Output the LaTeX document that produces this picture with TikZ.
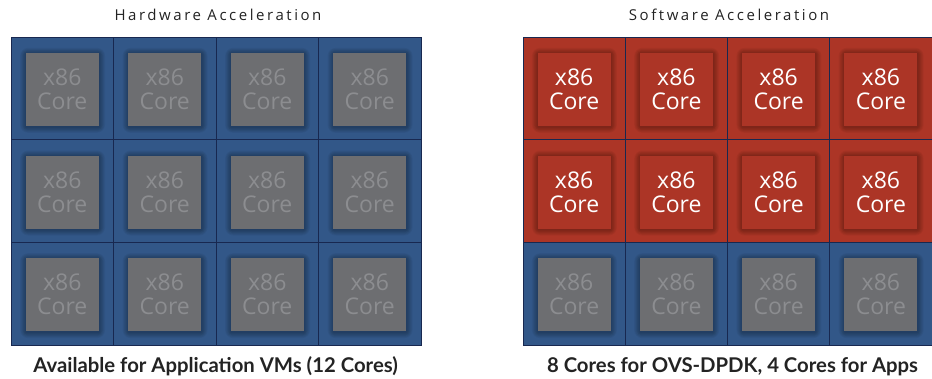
\documentclass[tikz,border=0pt]{standalone}
\usepackage{fontspec}
\setmainfont{Open Sans}
\newfontfamily\titlefont[LetterSpace=17]{Open Sans}
\newfontfamily\labelfont{Lato}
\definecolor{gridblue}{RGB}{50,87,136}
\definecolor{gridred}{RGB}{172,53,38}
\definecolor{gridline}{RGB}{24,40,80}
\definecolor{coregrey}{RGB}{109,110,113}
\definecolor{coretextgrey}{RGB}{140,141,144}
\definecolor{titlegrey}{RGB}{35,35,35}
\tikzset{
  corebox/.style={minimum width=73pt,minimum height=73pt,inner sep=0pt,align=center,
    font=\fontsize{23}{24}\selectfont},
  greycore/.style={corebox,fill=coregrey,text=coretextgrey},
  redcore/.style={corebox,fill=gridred,text=white},
  cellbox/.style={draw=gridline,line width=0.9pt},
  titletext/.style={font=\titlefont\fontsize{15}{17}\selectfont,text=titlegrey,anchor=base,inner sep=0pt},
  bottomtext/.style={font=\labelfont\bfseries\fontsize{20.3}{23}\selectfont,text=titlegrey,anchor=base,inner sep=0pt},
}
\begin{document}
\begin{tikzpicture}[x=1pt,y=-1pt]
\useasboundingbox (0,0) rectangle (932,378);
% titles
\node[titletext] (lt) at (218,20) {Hardware Acceleration};
\node[titletext] (rt) at (729,20) {Software Acceleration};
% grids
\foreach \g/\ox/\w in {L/11/102.5,R/523/102.25}{
  \foreach \r in {1,2,3}{
    \foreach \c in {1,2,3,4}{
      \pgfmathsetmacro{\xa}{\ox+(\c-1)*\w}
      \pgfmathsetmacro{\xb}{\ox+\c*\w}
      \pgfmathsetmacro{\ya}{37+(\r-1)*102.67}
      \pgfmathsetmacro{\yb}{37+\r*102.67}
      \pgfmathsetmacro{\cx}{(\xa+\xb)/2}
      \pgfmathsetmacro{\cy}{(\ya+\yb)/2+1}
      \ifnum\r<3
        \if\g R
          \def\cellcol{gridred}\def\corestyle{redcore}
        \else
          \def\cellcol{gridblue}\def\corestyle{greycore}
        \fi
      \else
        \def\cellcol{gridblue}\def\corestyle{greycore}
      \fi
      \fill[\cellcol] (\xa,\ya) rectangle (\xb,\yb);
      \foreach \i in {1,...,8}{
        \fill[black,opacity=0.035,rounded corners=\i pt]
          (\cx-36.5-\i*0.75+0.3,\cy-36.5-\i*0.75+1) rectangle (\cx+36.5+\i*0.75+0.3,\cy+36.5+\i*0.75+1);
      }
      \node[\corestyle] (\g-\r-\c) at (\cx,\cy) {x86\\Core};
    }
  }
  \foreach \r in {1,2,3}{
    \foreach \c in {1,2,3,4}{
      \pgfmathsetmacro{\xa}{\ox+(\c-1)*\w}
      \pgfmathsetmacro{\xb}{\ox+\c*\w}
      \pgfmathsetmacro{\ya}{37+(\r-1)*102.67}
      \pgfmathsetmacro{\yb}{37+\r*102.67}
      \draw[cellbox] (\xa,\ya) rectangle (\xb,\yb);
    }
  }
}
% bottom labels
\node[bottomtext] (lb) at (215.5,372) {Available for Application VMs (12 Cores)};
\node[bottomtext] (rb) at (732.5,372) {8 Cores for OVS-DPDK, 4 Cores for Apps};
\end{tikzpicture}
\end{document}
